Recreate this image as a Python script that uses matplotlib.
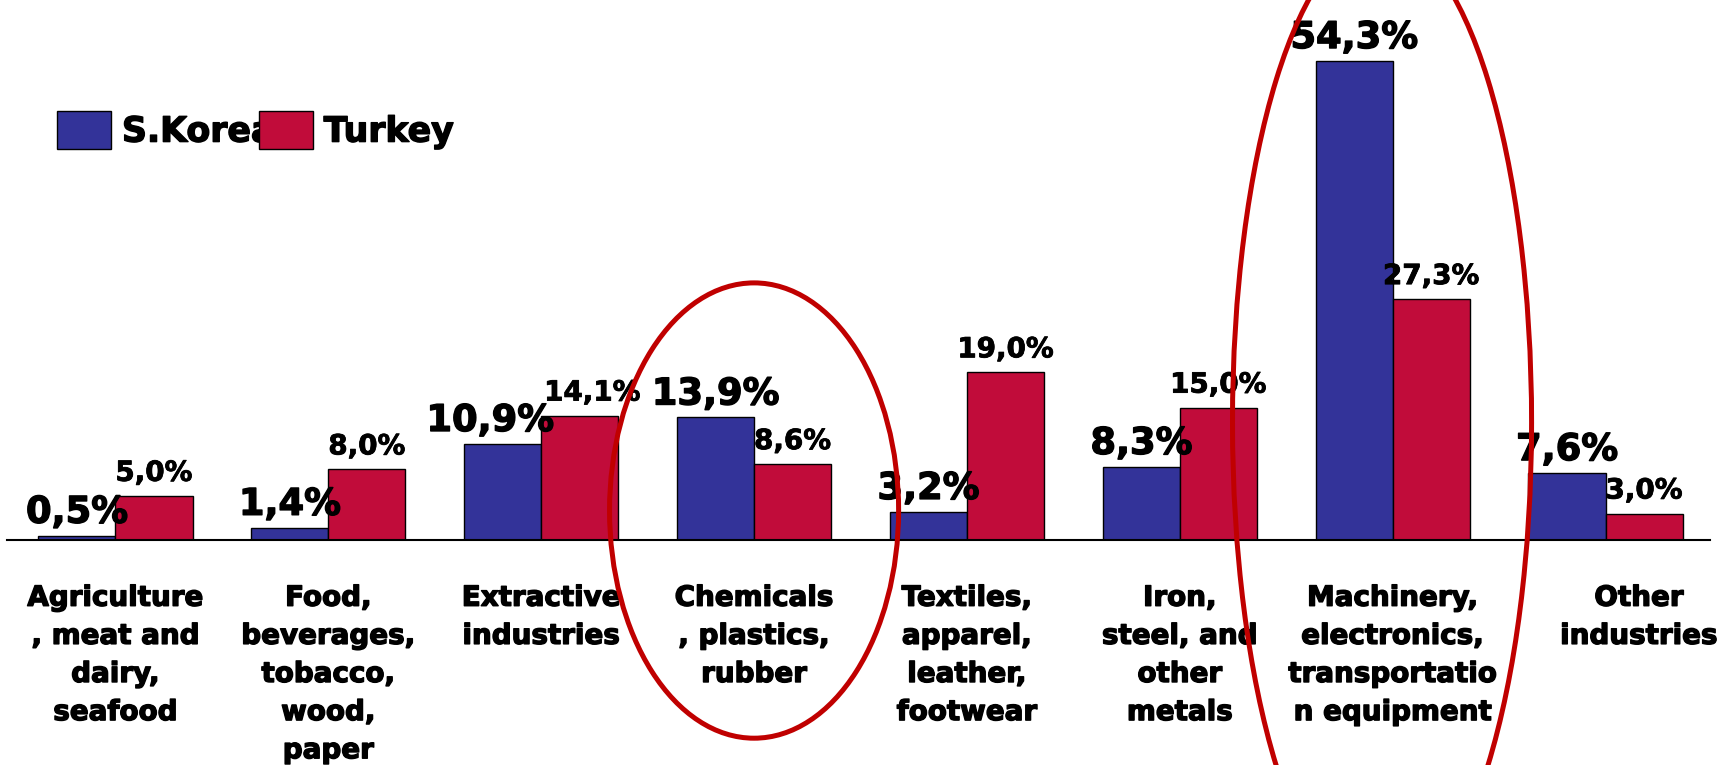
import matplotlib
matplotlib.use("Agg")
import matplotlib.pyplot as plt
import matplotlib.patheffects as pe
from matplotlib.patches import Ellipse
import numpy as np

categories = [
    "Agriculture\n, meat and\ndairy,\nseafood",
    "Food,\nbeverages,\ntobacco,\nwood,\npaper",
    "Extractive\nindustries",
    "Chemicals\n, plastics,\nrubber",
    "Textiles,\napparel,\nleather,\nfootwear",
    "Iron,\nsteel, and\nother\nmetals",
    "Machinery,\nelectronics,\ntransportatio\nn equipment",
    "Other\nindustries",
]
korea = [0.5, 1.4, 10.9, 13.9, 3.2, 8.3, 54.3, 7.6]
turkey = [5.0, 8.0, 14.1, 8.6, 19.0, 15.0, 27.3, 3.0]

BLUE = "#333399"
RED = "#C10C3A"
RING = "#C00000"


def pct(v):
    return f"{v:.1f}%".replace(".", ",")


plt.rcParams["font.family"] = "DejaVu Sans"
plt.rcParams["font.weight"] = "bold"

# a touch of stroke to make the bold text heavier
heavy = [pe.withStroke(linewidth=1.0, foreground="black")]

fig = plt.figure(figsize=(17.28, 7.65), dpi=100)
ax = fig.add_axes([0.004, 0.2941, 0.9855, 0.7059])

x = np.arange(len(categories))
w = 0.362
b1 = ax.bar(x - w / 2, korea, w, color=BLUE, edgecolor="black", linewidth=1.0, label="S.Korea")
b2 = ax.bar(x + w / 2, turkey, w, color=RED, edgecolor="black", linewidth=1.0, label="Turkey")

ax.set_xlim(-0.51, 7.49)
ax.set_ylim(0, 61.2)
for s in ["top", "left", "right"]:
    ax.spines[s].set_visible(False)
ax.spines["bottom"].set_linewidth(1.5)
ax.set_xticks([])
ax.set_yticks([])

# value labels; the extractive pair is pushed apart so they don't collide
nudge = {2: 9}
for i, (k, t) in enumerate(zip(korea, turkey)):
    d = nudge.get(i, 0)
    ax.annotate(pct(k), (i - w / 2, k), xytext=(-d, 3.5), textcoords="offset points",
                ha="center", va="bottom", fontsize=26.5, fontweight="bold",
                path_effects=heavy)
    ax.annotate(pct(t), (i + w / 2, t), xytext=(d, 6.5), textcoords="offset points",
                ha="center", va="bottom", fontsize=20, fontweight="bold",
                path_effects=[pe.withStroke(linewidth=0.6, foreground="black")])

# category names under the axis
for i, lab in enumerate(categories):
    dx = 24 if i == len(categories) - 1 else 0
    ax.annotate(lab, (i, 0), xycoords=("data", "axes fraction"), xytext=(dx, -31.5),
                textcoords="offset points", ha="center", va="top", fontsize=20,
                fontweight="bold", linespacing=1.46, annotation_clip=False,
                path_effects=heavy)

# highlight rings
ax.add_patch(Ellipse((3.0, 3.34), 1.358, 51.6, fill=False, edgecolor=RING,
                     linewidth=3.6, clip_on=False, zorder=5))
ax.add_patch(Ellipse((5.95, 13.3), 1.405, 110, fill=False, edgecolor=RING,
                     linewidth=3.6, clip_on=False, zorder=5))

fs = 25
leg = ax.legend(handles=[b1, b2], ncol=2, frameon=False, fontsize=fs,
                loc="center left", bbox_to_anchor=(57 / 1728, 1 - 130 / 765),
                bbox_transform=fig.transFigure, borderpad=0, borderaxespad=0,
                handlelength=1.55, handleheight=1.3, handletextpad=0.32,
                columnspacing=-0.45, prop={"weight": "bold", "size": fs})
for t in leg.get_texts():
    t.set_path_effects(heavy)

fig.savefig("out.png", dpi=100)
